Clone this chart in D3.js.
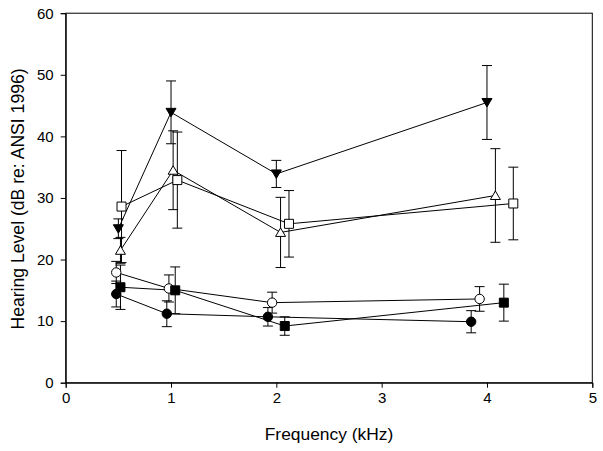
<!DOCTYPE html>
<html>
<head>
<meta charset="utf-8">
<script src="https://cdn.jsdelivr.net/npm/d3@7"></script>
<style>
  html, body { margin: 0; padding: 0; background: #fff; }
  svg { display: block; font-family: "Liberation Sans", Arial, sans-serif; }
</style>
</head>
<body>
<svg id="chart" width="603" height="451"></svg>
<script>
// ---- data ----
const xTicks = [0, 1, 2, 3, 4, 5];
const yTicks = [0, 10, 20, 30, 40, 50, 60];

const downTriX = [0.50, 1.00, 2.00, 4.00];
const downTriY = [25.0, 43.9, 33.9, 45.5];
const downTriErr = [1.6, 5.1, 2.2, 6.0];

const openTriX = [0.52, 1.02, 2.04, 4.08];
const openTriY = [21.5, 34.5, 24.4, 30.4];
const openTriErr = [2.1, 6.4, 5.7, 7.6];

const openSqX = [0.53, 1.06, 2.12, 4.25];
const openSqY = [28.6, 32.9, 25.8, 29.1];
const openSqErr = [9.1, 7.8, 5.4, 5.9];

const openCircX = [0.48, 0.98, 1.96, 3.93];
const openCircY = [17.9, 15.3, 13.0, 13.6];
const openCircErr = [1.8, 2.2, 1.7, 2.0];

const fillCircX = [0.48, 0.96, 1.92, 3.85];
const fillCircY = [14.4, 11.2, 10.7, 9.9];
const fillCircErr = [2.1, 2.1, 1.5, 1.8];

const fillSqX = [0.52, 1.04, 2.08, 4.16];
const fillSqY = [15.5, 15.0, 9.2, 13.0];
const fillSqErr = [3.6, 3.8, 1.5, 3.0];

const series = [
  { x: downTriX, y: downTriY, e: downTriErr, shape: "downTri", fill: "#000" },
  { x: openTriX, y: openTriY, e: openTriErr, shape: "upTri", fill: "#fff" },
  { x: openSqX, y: openSqY, e: openSqErr, shape: "square", fill: "#fff" },
  { x: openCircX, y: openCircY, e: openCircErr, shape: "circle", fill: "#fff" },
  { x: fillCircX, y: fillCircY, e: fillCircErr, shape: "circle", fill: "#000" },
  { x: fillSqX, y: fillSqY, e: fillSqErr, shape: "square", fill: "#000" }
];

// ---- layout ----
const svg = d3.select("#chart");
const mLeft = 65.7, mRight = 592.3, mTop = 13.2, mBottom = 382.7;
const x = d3.scaleLinear().domain([0, 5]).range([mLeft, mRight]);
const y = d3.scaleLinear().domain([0, 60]).range([mBottom, mTop]);

// frame
svg.append("rect")
  .attr("x", mLeft).attr("y", mTop)
  .attr("width", mRight - mLeft).attr("height", mBottom - mTop)
  .attr("fill", "none").attr("stroke", "#000").attr("stroke-width", 1);

// axes
const xAxis = svg.append("g").attr("transform", `translate(0,${mBottom})`)
  .call(d3.axisBottom(x).tickValues(xTicks).tickSize(5).tickPadding(5).tickFormat(d3.format("d")));
const yAxis = svg.append("g").attr("transform", `translate(${mLeft},0)`)
  .call(d3.axisLeft(y).tickValues(yTicks).tickSize(5).tickPadding(7).tickFormat(d3.format("d")));
[xAxis, yAxis].forEach(a => {
  a.select(".domain").attr("stroke", "#000");
  a.selectAll(".tick line").attr("stroke", "#000");
  a.selectAll(".tick text").attr("fill", "#000")
    .style("font-family", "'Liberation Sans', Arial, sans-serif").style("font-size", "15px");
});

// axis titles
svg.append("text")
  .attr("x", (mLeft + mRight) / 2).attr("y", 440)
  .attr("text-anchor", "middle").style("font-size", "17.4px").attr("fill", "#000")
  .text("Frequency (kHz)");
svg.append("text")
  .attr("transform", `translate(24,${(mTop + mBottom) / 2 + 1}) rotate(-90)`)
  .attr("text-anchor", "middle").style("font-size", "17.6px").attr("fill", "#000")
  .text("Hearing Level (dB re: ANSI 1996)");

// lines
const line = d3.line().x(d => x(d[0])).y(d => y(d[1]));
series.forEach(s => {
  const pts = s.x.map((v, i) => [v, s.y[i]]);
  svg.append("path").attr("d", line(pts))
    .attr("fill", "none").attr("stroke", "#000").attr("stroke-width", 1);
});

// error bars
const cap = 5;
series.forEach(s => {
  const g = svg.append("g").attr("stroke", "#000").attr("stroke-width", 1);
  s.x.forEach((v, i) => {
    const cx = x(v), y1 = y(s.y[i] + s.e[i]), y2 = y(s.y[i] - s.e[i]);
    g.append("line").attr("x1", cx).attr("x2", cx).attr("y1", y1).attr("y2", y2);
    g.append("line").attr("x1", cx - cap).attr("x2", cx + cap).attr("y1", y1).attr("y2", y1);
    g.append("line").attr("x1", cx - cap).attr("x2", cx + cap).attr("y1", y2).attr("y2", y2);
  });
});

// markers
function shapePath(shape) {
  if (shape === "downTri") return "M-5,-4L5,-4L0,4.5Z";
  if (shape === "upTri") return "M-5,4L5,4L0,-4.5Z";
  if (shape === "square") return "M-4.5,-4.5L4.5,-4.5L4.5,4.5L-4.5,4.5Z";
  return null;
}
series.forEach(s => {
  const g = svg.append("g");
  s.x.forEach((v, i) => {
    const cx = x(v), cy = y(s.y[i]);
    if (s.shape === "circle") {
      g.append("circle").attr("cx", cx).attr("cy", cy).attr("r", 4.7)
        .attr("fill", s.fill).attr("stroke", "#000").attr("stroke-width", 1);
    } else {
      g.append("path").attr("d", shapePath(s.shape))
        .attr("transform", `translate(${cx},${cy})`)
        .attr("fill", s.fill).attr("stroke", "#000").attr("stroke-width", 1);
    }
  });
});
</script>
</body>
</html>
